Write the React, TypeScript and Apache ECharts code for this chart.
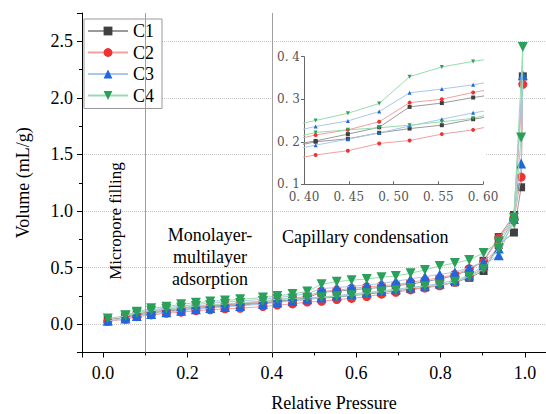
import React, { useEffect, useRef } from "react";
import * as echarts from "echarts";

const SERIES_NAMES = ["C1", "C2", "C3", "C4"];

// Adsorption branch relative pressures
const P_ADS = [0.011, 0.053, 0.08, 0.114, 0.15, 0.185, 0.22, 0.254, 0.289, 0.325, 0.379, 0.413, 0.449, 0.484, 0.518, 0.554, 0.589, 0.625, 0.66, 0.694, 0.729, 0.763, 0.798, 0.834, 0.868, 0.902, 0.938, 0.974, 0.991, 0.995];
// Desorption branch relative pressures
const P_DES = [0.974, 0.938, 0.902, 0.868, 0.834, 0.798, 0.763, 0.729, 0.694, 0.66, 0.625, 0.589, 0.554, 0.518, 0.484, 0.449, 0.413, 0.379, 0.325, 0.289, 0.254, 0.22, 0.185, 0.15, 0.114, 0.08, 0.053];

const C1_ADS = [0.04, 0.06, 0.08, 0.1, 0.115, 0.128, 0.14, 0.15, 0.16, 0.168, 0.185, 0.2, 0.207, 0.221, 0.231, 0.239, 0.253, 0.265, 0.28, 0.295, 0.31, 0.325, 0.345, 0.37, 0.41, 0.47, 0.7, 0.81, 1.21, 2.19];
const C1_DES = [0.965, 0.77, 0.56, 0.48, 0.43, 0.4, 0.375, 0.355, 0.34, 0.325, 0.315, 0.304, 0.291, 0.282, 0.234, 0.218, 0.202, 0.19, 0.18, 0.17, 0.16, 0.15, 0.14, 0.125, 0.11, 0.09, 0.065];
const C2_ADS = [0.025, 0.044, 0.067, 0.082, 0.097, 0.106, 0.12, 0.127, 0.136, 0.141, 0.156, 0.169, 0.179, 0.196, 0.203, 0.218, 0.228, 0.244, 0.265, 0.282, 0.303, 0.32, 0.34, 0.37, 0.42, 0.5, 0.7, 0.92, 1.3, 2.12];
const C2_DES = [0.94, 0.76, 0.55, 0.49, 0.44, 0.41, 0.39, 0.37, 0.35, 0.34, 0.33, 0.316, 0.3, 0.292, 0.247, 0.228, 0.216, 0.2, 0.185, 0.175, 0.165, 0.155, 0.14, 0.125, 0.11, 0.085, 0.06];
const C3_ADS = [0.03, 0.05, 0.072, 0.09, 0.105, 0.12, 0.133, 0.143, 0.153, 0.162, 0.178, 0.192, 0.206, 0.221, 0.237, 0.253, 0.268, 0.28, 0.295, 0.31, 0.325, 0.34, 0.36, 0.39, 0.43, 0.52, 0.61, 0.93, 1.42, 2.2];
const C3_DES = [0.96, 0.67, 0.553, 0.5, 0.46, 0.44, 0.42, 0.4, 0.38, 0.36, 0.347, 0.334, 0.324, 0.315, 0.271, 0.249, 0.236, 0.22, 0.205, 0.195, 0.185, 0.175, 0.16, 0.145, 0.125, 0.1, 0.07];
const C4_ADS = [0.05, 0.075, 0.1, 0.118, 0.135, 0.148, 0.16, 0.17, 0.18, 0.188, 0.205, 0.222, 0.228, 0.233, 0.239, 0.247, 0.255, 0.274, 0.288, 0.3, 0.32, 0.335, 0.345, 0.376, 0.42, 0.486, 0.67, 0.895, 1.65, 2.45];
const C4_DES = [0.94, 0.73, 0.63, 0.568, 0.54, 0.515, 0.48, 0.45, 0.427, 0.415, 0.4, 0.389, 0.376, 0.353, 0.29, 0.267, 0.25, 0.235, 0.22, 0.21, 0.2, 0.19, 0.177, 0.155, 0.14, 0.11, 0.08];

const REGION_LINES = [0.1, 0.4];

const ADS = [C1_ADS, C2_ADS, C3_ADS, C4_ADS];
const DES = [C1_DES, C2_DES, C3_DES, C4_DES];

const MARKER_COLORS = ["#404040", "#ee3333", "#2266dd", "#2aa05a"];
const LINE_COLORS = ["#9a9a9a", "#f2a0a0", "#a8c8ee", "#99dbb0"];
const SYMBOLS = ["rect", "circle", "triangle", "path://M0,0L2,0L1,1.8Z"];
const SIZES = [8, 9, 10, 10];

const SERIF = "'Liberation Serif', 'Times New Roman', serif";
const INSET_FONT = "'DejaVu Serif', serif";

export default function App() {
  const ref = useRef<HTMLDivElement>(null);
  useEffect(() => {
    if (!ref.current) return;
    const chart = echarts.init(ref.current, null, { renderer: "svg" });

    const mainSeries: any[] = SERIES_NAMES.map((name, i) => {
      const data: number[][] = [];
      P_ADS.forEach((p, k) => data.push([p, ADS[i][k]]));
      P_DES.forEach((p, k) => data.push([p, DES[i][k]]));
      const s: any = {
        name,
        type: "line",
        xAxisIndex: 0,
        yAxisIndex: 0,
        data,
        symbol: SYMBOLS[i],
        symbolSize: SIZES[i],
        itemStyle: { color: MARKER_COLORS[i] },
        lineStyle: { color: LINE_COLORS[i], width: 1 },
        z: 2 + i * 0.1,
      };
      if (i === 0) {
        s.markLine = {
          silent: true,
          symbol: "none",
          label: { show: false },
          lineStyle: { color: "#a0a0a0", type: "solid", width: 1 },
          data: REGION_LINES.map((v) => ({ xAxis: v })),
        };
      }
      return s;
    });

    const insetSeries: any[] = [];
    SERIES_NAMES.forEach((name, i) => {
      const ads = P_ADS.map((p, k) => [p, ADS[i][k]]).filter((d) => d[0] > 0.3 && d[0] < 0.7);
      const des = P_DES.map((p, k) => [p, DES[i][k]]).filter((d) => d[0] > 0.3 && d[0] < 0.7);
      [ads, des].forEach((data, j) => {
        insetSeries.push({
          name: name + (j === 0 ? " ads" : " des"),
          type: "line",
          xAxisIndex: 1,
          yAxisIndex: 1,
          data,
          clip: true,
          symbol: SYMBOLS[i],
          symbolSize: 4,
          itemStyle: { color: MARKER_COLORS[i] },
          lineStyle: { color: LINE_COLORS[i], width: 1 },
          z: 4,
        });
      });
    });

    const option: any = {
      animation: false,
      backgroundColor: "#fff",
      textStyle: { fontFamily: SERIF },
      grid: [
        { left: 82, right: 0, top: 13, bottom: 61.5 },
        { left: 304, width: 179, top: 56.7, height: 127.6, z: 3 },
      ],
      legend: {
        data: SERIES_NAMES,
        orient: "vertical",
        left: 84,
        top: 19,
        itemWidth: 40,
        itemHeight: 11,
        itemGap: 3.5,
        padding: [3, 8, 4, 3],
        borderColor: "#999",
        borderWidth: 1,
        backgroundColor: "#fff",
        textStyle: { fontFamily: SERIF, fontSize: 18, color: "#000" },
      },
      xAxis: [
        {
          type: "value",
          gridIndex: 0,
          min: -0.05,
          max: 1.05,
          splitNumber: 5,
          axisLine: { show: true, onZero: false, lineStyle: { color: "#000", width: 1 } },
          axisTick: { show: true, length: 5, lineStyle: { color: "#000" } },
          minorTick: { show: true, splitNumber: 2, length: 3, lineStyle: { color: "#000" } },
          splitLine: { show: false },
          axisLabel: {
            fontFamily: SERIF,
            fontSize: 18,
            color: "#000",
            margin: 11,
            showMinLabel: false,
            showMaxLabel: false,
            formatter: (v: number) => v.toFixed(1),
          },
        },
        {
          type: "value",
          gridIndex: 1,
          min: 0.4,
          max: 0.6,
          interval: 0.05,
          z: 3,
          axisLine: { show: true, onZero: false, lineStyle: { color: "#666", width: 1 } },
          axisTick: { show: true, inside: true, length: 3, lineStyle: { color: "#666" } },
          splitLine: { show: false },
          axisLabel: {
            fontFamily: INSET_FONT,
            fontSize: 12,
            color: "#555",
            margin: 7,
            formatter: (v: number) => v.toFixed(2).replace(".", ". "),
          },
        },
      ],
      yAxis: [
        {
          type: "value",
          gridIndex: 0,
          min: -0.25,
          max: 2.75,
          splitNumber: 6,
          axisLine: { show: true, onZero: false, lineStyle: { color: "#000", width: 1 } },
          axisTick: { show: true, length: 5, lineStyle: { color: "#000" } },
          minorTick: { show: true, splitNumber: 2, length: 3, lineStyle: { color: "#000" } },
          splitLine: {
            show: true,
            showMinLine: false,
            showMaxLine: false,
            lineStyle: { color: "#c4c4c4", type: "dotted", width: 1 },
          },
          axisLabel: {
            fontFamily: SERIF,
            fontSize: 18,
            color: "#000",
            margin: 9,
            showMinLabel: false,
            showMaxLabel: false,
            formatter: (v: number) => v.toFixed(1),
          },
          name: "Volume (mL/g)",
          nameLocation: "middle",
          nameGap: 50,
          nameTextStyle: { fontFamily: SERIF, fontSize: 18, color: "#000" },
        },
        {
          type: "value",
          gridIndex: 1,
          min: 0.1,
          max: 0.4,
          interval: 0.1,
          z: 3,
          axisLine: { show: true, onZero: false, lineStyle: { color: "#666", width: 1 } },
          axisTick: { show: true, length: 3, lineStyle: { color: "#666" } },
          splitLine: { show: false },
          axisLabel: {
            fontFamily: INSET_FONT,
            fontSize: 12,
            color: "#555",
            margin: 4,
            formatter: (v: number) => v.toFixed(1).replace(".", ". "),
          },
        },
      ],
      graphic: {
        elements: [
          {
            type: "rect",
            z: 1,
            silent: true,
            shape: { x: 274, y: 47, width: 212, height: 155 },
            style: { fill: "#fff" },
          },
          {
            type: "text",
            z: 10,
            x: 115,
            y: 221,
            rotation: Math.PI / 2,
            style: {
              text: "Micropore filling",
              fontFamily: SERIF,
              fontSize: 17,
              fill: "#000",
              align: "center",
              verticalAlign: "middle",
            },
          },
          {
            type: "text",
            z: 10,
            x: 210,
            y: 257,
            style: {
              text: "Monolayer-\nmultilayer\nadsorption",
              fontFamily: SERIF,
              fontSize: 18,
              lineHeight: 22,
              fill: "#000",
              align: "center",
              verticalAlign: "middle",
            },
          },
          {
            type: "text",
            z: 10,
            x: 282,
            y: 237,
            style: {
              text: "Capillary condensation",
              fontFamily: SERIF,
              fontSize: 18,
              fill: "#000",
              align: "left",
              verticalAlign: "middle",
            },
          },
          {
            type: "text",
            z: 10,
            x: 334,
            y: 403,
            style: {
              text: "Relative Pressure",
              fontFamily: SERIF,
              fontSize: 18,
              fill: "#000",
              align: "center",
              verticalAlign: "middle",
            },
          },
        ],
      },
      series: [...mainSeries, ...insetSeries],
    };

    chart.setOption(option);
    return () => chart.dispose();
  }, []);

  return <div ref={ref} style={{ width: 546, height: 414, position: "absolute", left: 0, top: 0 }} />;
}
